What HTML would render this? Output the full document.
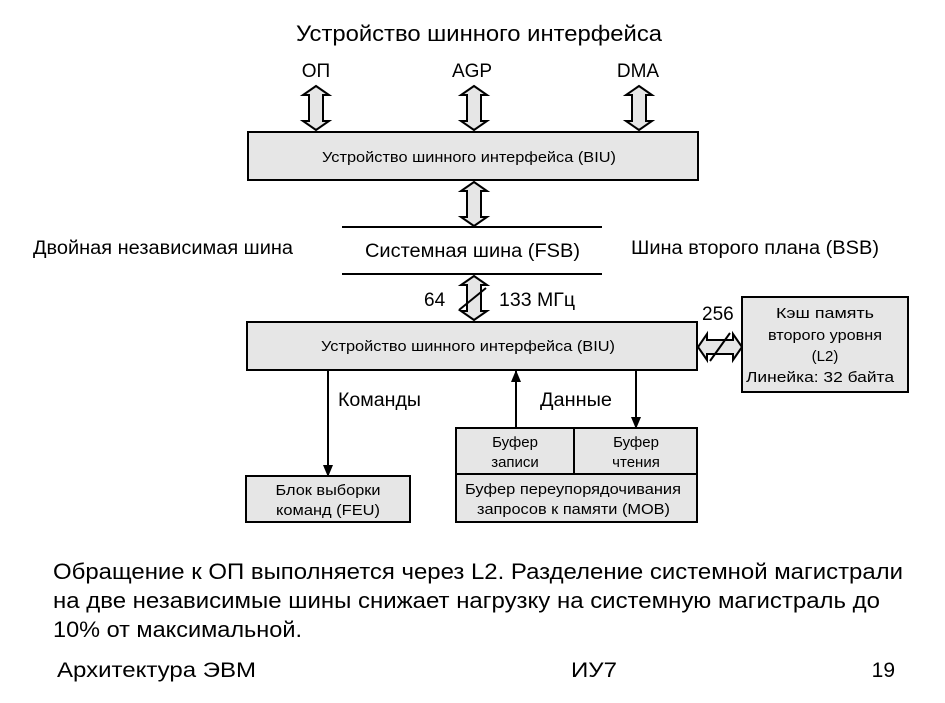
<!DOCTYPE html>
<html><head><meta charset="utf-8"><style>
body{margin:0;background:#fff;}
svg{display:block;font-family:"Liberation Sans",Arial,sans-serif;}
</style></head><body>
<svg width="945" height="703" viewBox="0 0 945 703" xmlns="http://www.w3.org/2000/svg">
<defs>
<marker id="ah" markerWidth="12" markerHeight="10" refX="11" refY="5" orient="auto" markerUnits="userSpaceOnUse">
<path d="M0,0 L12,5 L0,10 Z" fill="#000"/></marker>
<g id="dar"><path d="M0,-22 L13,-13 L7,-13 L7,13 L13,13 L0,22 L-13,13 L-7,13 L-7,-13 L-13,-13 Z" fill="#e6e6e6" stroke="#000" stroke-width="2"/></g>
</defs>
<g>
<text x="296" y="41" font-size="22" textLength="366" lengthAdjust="spacingAndGlyphs">Устройство шинного интерфейса</text>
<text x="316" y="77" font-size="19" text-anchor="middle">ОП</text>
<text x="472" y="77" font-size="19" text-anchor="middle">AGP</text>
<text x="638" y="77" font-size="19" text-anchor="middle">DMA</text>
<use href="#dar" x="316" y="108"/>
<use href="#dar" x="474" y="108"/>
<use href="#dar" x="639" y="108"/>
<rect x="248" y="132" width="450" height="48" fill="#e6e6e6" stroke="#000" stroke-width="2"/>
<text x="322" y="162" font-size="15" textLength="294" lengthAdjust="spacingAndGlyphs">Устройство шинного интерфейса (BIU)</text>
<use href="#dar" x="474" y="204"/>
<line x1="342" y1="227" x2="602" y2="227" stroke="#000" stroke-width="2"/>
<line x1="342" y1="274" x2="602" y2="274" stroke="#000" stroke-width="2"/>
<text x="365" y="257" font-size="19" textLength="215" lengthAdjust="spacingAndGlyphs">Системная шина (FSB)</text>
<text x="33" y="254" font-size="19" textLength="260" lengthAdjust="spacingAndGlyphs">Двойная независимая шина</text>
<text x="631" y="254" font-size="19" textLength="248" lengthAdjust="spacingAndGlyphs">Шина второго плана (BSB)</text>
<use href="#dar" x="474" y="298"/>
<line x1="459" y1="310" x2="486" y2="288" stroke="#000" stroke-width="2"/>
<text x="424" y="306" font-size="19">64</text>
<text x="499" y="306" font-size="19" textLength="76" lengthAdjust="spacingAndGlyphs">133 МГц</text>
<rect x="247" y="322" width="450" height="48" fill="#e6e6e6" stroke="#000" stroke-width="2"/>
<text x="321" y="351" font-size="15" textLength="294" lengthAdjust="spacingAndGlyphs">Устройство шинного интерфейса (BIU)</text>
<use href="#dar" transform="translate(720,347) rotate(90)"/>
<line x1="710" y1="361" x2="730" y2="333" stroke="#000" stroke-width="2"/>
<text x="702" y="320" font-size="19">256</text>
<rect x="742" y="297" width="166" height="95" fill="#e6e6e6" stroke="#000" stroke-width="2"/>
<text x="825" y="318" font-size="15" text-anchor="middle" textLength="98" lengthAdjust="spacingAndGlyphs">Кэш память</text>
<text x="825" y="340" font-size="15" text-anchor="middle" textLength="114" lengthAdjust="spacingAndGlyphs">второго уровня</text>
<text x="825" y="361" font-size="15" text-anchor="middle">(L2)</text>
<text x="746" y="382" font-size="15" textLength="148" lengthAdjust="spacingAndGlyphs">Линейка: 32 байта</text>
<line x1="328" y1="370" x2="328" y2="476" stroke="#000" stroke-width="2" marker-end="url(#ah)"/>
<text x="338" y="406" font-size="19" textLength="83" lengthAdjust="spacingAndGlyphs">Команды</text>
<line x1="516" y1="428" x2="516" y2="371" stroke="#000" stroke-width="2" marker-end="url(#ah)"/>
<line x1="636" y1="370" x2="636" y2="428" stroke="#000" stroke-width="2" marker-end="url(#ah)"/>
<text x="540" y="406" font-size="19" textLength="72" lengthAdjust="spacingAndGlyphs">Данные</text>
<rect x="246" y="476" width="164" height="46" fill="#e6e6e6" stroke="#000" stroke-width="2"/>
<text x="328" y="495" font-size="15" text-anchor="middle" textLength="105" lengthAdjust="spacingAndGlyphs">Блок выборки</text>
<text x="328" y="515" font-size="15" text-anchor="middle" textLength="104" lengthAdjust="spacingAndGlyphs">команд (FEU)</text>
<rect x="456" y="428" width="241" height="94" fill="#e6e6e6" stroke="#000" stroke-width="2"/>
<line x1="456" y1="474" x2="697" y2="474" stroke="#000" stroke-width="2"/>
<line x1="574" y1="428" x2="574" y2="474" stroke="#000" stroke-width="2"/>
<text x="515" y="447" font-size="15" text-anchor="middle">Буфер</text>
<text x="515" y="467" font-size="15" text-anchor="middle">записи</text>
<text x="636" y="447" font-size="15" text-anchor="middle">Буфер</text>
<text x="636" y="467" font-size="15" text-anchor="middle">чтения</text>
<text x="465" y="494" font-size="15" textLength="216" lengthAdjust="spacingAndGlyphs">Буфер переупорядочивания</text>
<text x="477" y="514" font-size="15" textLength="193" lengthAdjust="spacingAndGlyphs">запросов к памяти (MOB)</text>
<text x="53" y="579" font-size="22" textLength="850" lengthAdjust="spacingAndGlyphs">Обращение к ОП выполняется через L2. Разделение системной магистрали</text>
<text x="53" y="608" font-size="22" textLength="827" lengthAdjust="spacingAndGlyphs">на две независимые шины снижает нагрузку на системную магистраль до</text>
<text x="53" y="637" font-size="22" textLength="249" lengthAdjust="spacingAndGlyphs">10% от максимальной.</text>
<text x="57" y="677" font-size="21" textLength="199" lengthAdjust="spacingAndGlyphs">Архитектура ЭВМ</text>
<text x="571" y="677" font-size="21" textLength="46" lengthAdjust="spacingAndGlyphs">ИУ7</text>
<text x="895" y="677" font-size="21" text-anchor="end">19</text>
</g>
</svg>
</body></html>
